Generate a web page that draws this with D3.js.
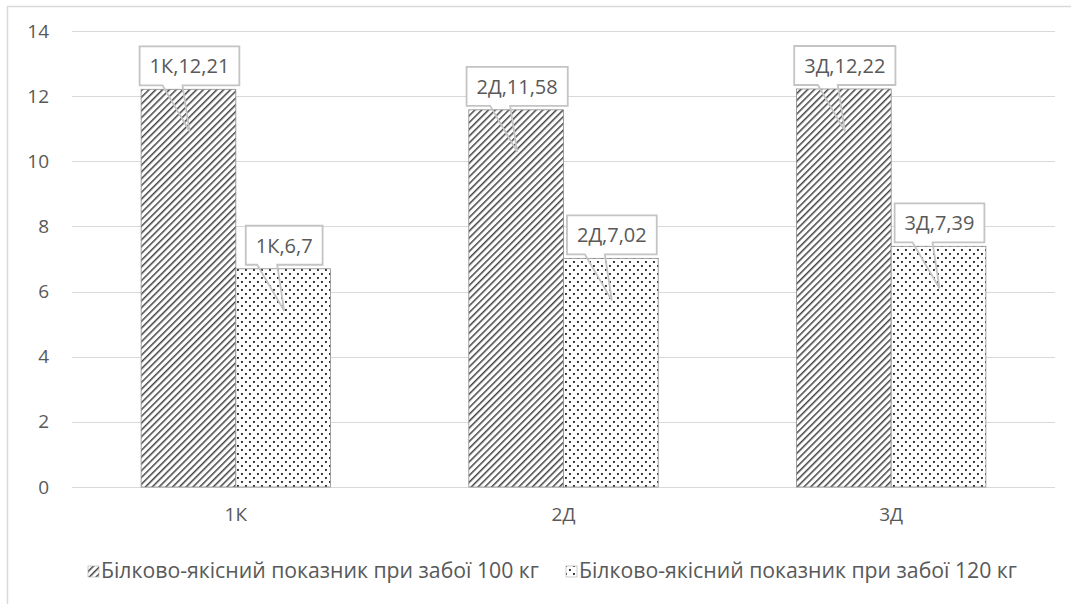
<!DOCTYPE html>
<html><head><meta charset="utf-8">
<script src="https://cdn.jsdelivr.net/npm/d3@7"></script>
<style>
html,body{margin:0;padding:0;background:#fff;}
svg{display:block;font-family:'Open Sans','Noto Sans',sans-serif;}
</style></head>
<body>
<svg id="chart" width="1071" height="604"></svg>
<script>
const categories = ["1К", "2Д", "3Д"];
const seriesNames = ["Білково-якісний показник при забої 100 кг", "Білково-якісний показник при забої 120 кг"];
const series100 = [12.21, 11.58, 12.22];
const series120 = [6.7, 7.02, 7.39];
const yTicks = [0, 2, 4, 6, 8, 10, 12, 14];

(function(){
const svg = d3.select("#chart");
const FONT = "'Open Sans','Noto Sans',sans-serif";
const pL = 72, pR = 1055, pT = 31, pB = 487;
const textColor = "#595959";

const defs = svg.append("defs");
const hatch = defs.append("pattern").attr("id","hatch").attr("patternUnits","userSpaceOnUse")
  .attr("width",4.8).attr("height",4.8).attr("patternTransform","rotate(45)");
hatch.append("rect").attr("width",4.8).attr("height",4.8).attr("fill","#fff");
hatch.append("rect").attr("x",0).attr("width",1.5).attr("height",4.8).attr("fill","#444");

const dots = defs.append("pattern").attr("id","dots").attr("patternUnits","userSpaceOnUse")
  .attr("width",8).attr("height",8);
dots.append("rect").attr("width",8).attr("height",8).attr("fill","#fff");
dots.append("rect").attr("x",1).attr("y",1).attr("width",1.9).attr("height",1.9).attr("fill","#2a2a2a");
dots.append("rect").attr("x",5).attr("y",5).attr("width",1.9).attr("height",1.9).attr("fill","#2a2a2a");

svg.append("rect").attr("x",7.5).attr("y",6.5).attr("width",1070).attr("height",600)
  .attr("fill","none").attr("stroke","#d9d9d9").attr("stroke-width",1.5);

const y = d3.scaleLinear().domain([0,14]).range([pB, pT]);
const x0 = d3.scaleBand().domain(categories).range([pL, pR]).padding(0);
const groupW = x0.bandwidth()*0.578;
const x1 = d3.scaleBand().domain([0,1]).range([0, groupW]).padding(0);

svg.append("g").selectAll("line").data(yTicks).join("line")
  .attr("x1",pL).attr("x2",pR)
  .attr("y1",d=>Math.round(y(d))+0.5).attr("y2",d=>Math.round(y(d))+0.5)
  .attr("stroke","#d9d9d9").attr("stroke-width",1.2);

const yAxis = d3.axisLeft(y).tickValues(yTicks).tickSize(0).tickPadding(0).tickFormat(d3.format("d"));
const gy = svg.append("g").attr("transform",`translate(49,0)`).call(yAxis);
gy.select(".domain").remove();
gy.selectAll("text").attr("fill",textColor).style("font-size","19px").style("font-family",FONT);

const xAxis = d3.axisBottom(x0).tickSize(0).tickPadding(0);
const gx = svg.append("g").attr("transform",`translate(0,${pB+20})`).call(xAxis);
gx.select(".domain").remove();
gx.selectAll("text").attr("fill",textColor).style("font-size","19px").style("font-family",FONT);

const data = [];
categories.forEach((c,i)=>{
  data.push({cat:c, s:0, v:series100[i]});
  data.push({cat:c, s:1, v:series120[i]});
});
const fmt = v => String(v).replace(".", ",");
const barX = d => x0(d.cat) + (x0.bandwidth()-groupW)/2 + x1(d.s);

svg.append("g").selectAll("rect").data(data).join("rect")
  .attr("x",barX).attr("y",d=>y(d.v))
  .attr("width",x1.bandwidth()).attr("height",d=>y(0)-y(d.v))
  .attr("fill",d=>d.s===0?"url(#hatch)":"url(#dots)")
  .attr("stroke","#8c8c8c").attr("stroke-width",0.8);

const lab = svg.append("g");
data.forEach(d=>{
  const cx = barX(d) + x1.bandwidth()/2 + 1;
  const barTop = y(d.v);
  const t = lab.append("text").attr("x",cx).attr("y",barTop-16)
    .attr("text-anchor","middle").attr("fill",textColor).style("font-size","20px").style("font-family",FONT)
    .text(d.cat + "," + fmt(d.v));
  const tw = t.node().getComputedTextLength();
  const bw = tw + 20, bh = 39;
  const bx = cx - bw/2, by = barTop - 4 - bh, bb = by + bh;
  const p1 = cx - 27, p2 = cx - 7, tipY = barTop + 42;
  lab.insert("rect", "text").attr("x",bx).attr("y",by).attr("width",bw).attr("height",bh).attr("fill","#fff");
  lab.append("path")
    .attr("d",`M${bx},${by}H${bx+bw}V${bb}H${p2}L${cx},${tipY}L${p1},${bb}H${bx}Z`)
    .attr("fill","none").attr("stroke","#c4c4c4").attr("stroke-width",1.8);
  t.raise();
});

const leg = svg.append("g");
const legX = [88, 566];
const legTarget = 438;
seriesNames.forEach((n,i)=>{
  leg.append("rect").attr("x",legX[i]).attr("y",566).attr("width",11).attr("height",11)
    .attr("fill",i===0?"url(#hatch)":"url(#dots)").attr("stroke","#aaa").attr("stroke-width",0.6);
  const t = leg.append("text").attr("x",legX[i]+13).attr("y",578).attr("fill",textColor)
    .style("font-size","18px").style("font-family",FONT).text(n);
  const w = t.node().getComputedTextLength();
  t.style("font-size", (18*legTarget/w).toFixed(2)+"px");
});
})();
</script>
</body></html>
